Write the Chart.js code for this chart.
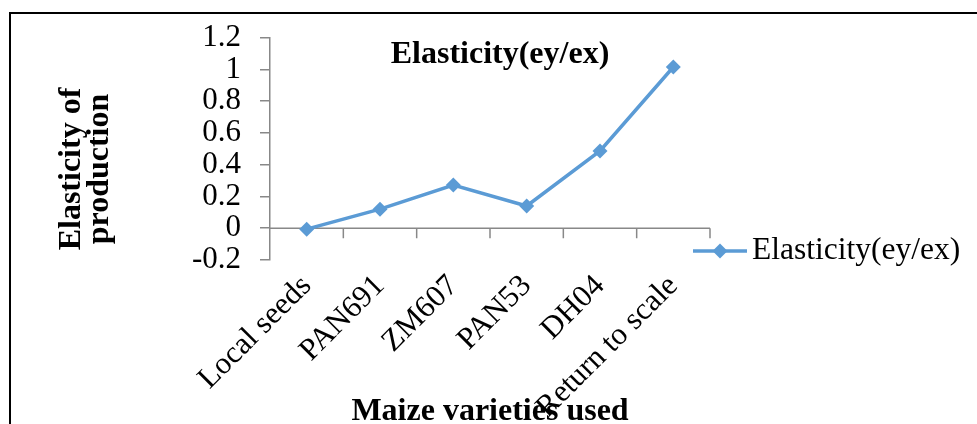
<!DOCTYPE html>
<html>
<head>
<meta charset="utf-8">
<script src="https://cdn.jsdelivr.net/npm/chart.js@4.4.1/dist/chart.umd.min.js"></script>
<style>
  html, body { margin: 0; padding: 0; background: #fff; overflow: hidden; }
  #frame { position: absolute; left: 9px; top: 12px; width: 1000px; height: 500px; border: 2px solid #000; }
  #wrap { position: absolute; left: 0; top: 0; width: 977px; height: 424px; }
</style>
</head>
<body>
<div id="frame"></div>
<div id="wrap"><canvas id="chartContainer"></canvas></div>
<script>
"use strict";

// 1: data
let varieties = ['Local seeds', 'PAN691', 'ZM607', 'PAN53', 'DH04', 'Return to scale'];
let elasticity = [-0.006, 0.12, 0.272, 0.14, 0.486, 1.015];
let yTicks = [-0.2, 0, 0.2, 0.4, 0.6, 0.8, 1, 1.2];
let seriesLabel = 'Elasticity(ey/ex)';
let chartTitle = 'Elasticity(ey/ex)';
let yTitle = ['Elasticity of', 'production'];
let xTitle = 'Maize varieties used';

// 2: look
const FONT = "'Liberation Serif', 'Times New Roman', serif";
const blue = '#5B9BD5';
const axisGrey = '#888888';

// titles, legend and the zero axis are drawn by hand (excel style)
const decorations = {
  id: 'decorations',
  beforeDatasetsDraw(chart) {
    const {ctx, chartArea, scales: {x, y}} = chart;
    const y0 = y.getPixelForValue(0);
    const half = (x.getPixelForValue(1) - x.getPixelForValue(0)) / 2;
    ctx.save();
    ctx.strokeStyle = axisGrey;
    ctx.lineWidth = 1.5;
    ctx.beginPath();
    ctx.moveTo(chartArea.left, y0);
    ctx.lineTo(chartArea.right, y0);
    for (let i = 0; i < varieties.length; i++) {
      const px = x.getPixelForValue(i) + half;
      ctx.moveTo(px, y0);
      ctx.lineTo(px, y0 + 10);
    }
    ctx.stroke();
    ctx.restore();
  },
  afterDraw(chart) {
    const ctx = chart.ctx;
    ctx.save();
    ctx.fillStyle = '#000';

    // chart title
    ctx.font = 'bold 32px ' + FONT;
    ctx.textAlign = 'center';
    ctx.textBaseline = 'alphabetic';
    ctx.fillText(chartTitle, 500, 63);

    // x axis title
    ctx.fillText(xTitle, 490, 420);

    // y axis title
    ctx.save();
    ctx.translate(0, 169);
    ctx.rotate(-Math.PI / 2);
    ctx.fillText(yTitle[0], 0, 80);
    ctx.fillText(yTitle[1], 0, 108);
    ctx.restore();

    // legend
    const ly = 251;
    ctx.strokeStyle = blue;
    ctx.lineWidth = 3.5;
    ctx.beginPath();
    ctx.moveTo(693, ly);
    ctx.lineTo(747, ly);
    ctx.stroke();
    ctx.fillStyle = blue;
    ctx.beginPath();
    ctx.moveTo(720, ly - 7.5);
    ctx.lineTo(727.5, ly);
    ctx.lineTo(720, ly + 7.5);
    ctx.lineTo(712.5, ly);
    ctx.closePath();
    ctx.fill();
    ctx.fillStyle = '#000';
    ctx.font = '31.5px ' + FONT;
    ctx.textAlign = 'left';
    ctx.textBaseline = 'middle';
    ctx.fillText(seriesLabel, 752, ly);
    ctx.restore();
  }
};

// 3: create and append the chart
function appendChart() {
  let chartContainer = document.getElementById('chartContainer');
  let chart = new Chart(chartContainer, {
    type: 'line',
    data: {
      labels: varieties,
      datasets: [{
        label: seriesLabel,
        data: elasticity,
        borderColor: blue,
        backgroundColor: blue,
        borderWidth: 3.5,
        pointStyle: 'rectRot',
        pointRadius: 7.5,
        pointBorderWidth: 0,
        tension: 0
      }]
    },
    options: {
      responsive: true,
      maintainAspectRatio: false,
      animation: false,
      layout: { padding: { left: 0, top: 31, right: 267, bottom: 0 } },
      plugins: {
        legend: { display: false },
        title: { display: false },
        tooltip: { enabled: false }
      },
      scales: {
        x: {
          type: 'category',
          offset: true,
          grid: { display: false, drawTicks: false },
          border: { display: false },
          ticks: {
            autoSkip: false,
            minRotation: 45,
            maxRotation: 45,
            padding: 8,
            color: '#000',
            font: { family: FONT, size: 31 }
          },
          afterFit: s => { s.height = 164; }
        },
        y: {
          min: -0.2,
          max: 1.2,
          afterBuildTicks: s => { s.ticks = yTicks.map(v => ({ value: v })); },
          grid: { drawOnChartArea: false, drawTicks: true, tickLength: 10, color: axisGrey, lineWidth: 1.5 },
          border: { display: true, color: axisGrey, width: 1.5 },
          ticks: {
            autoSkip: false,
            padding: 19,
            color: '#000',
            font: { family: FONT, size: 31 },
            callback: v => String(v)
          },
          afterFit: s => { s.width = 270; }
        }
      }
    },
    plugins: [decorations]
  });
}

appendChart();
</script>
</body>
</html>
